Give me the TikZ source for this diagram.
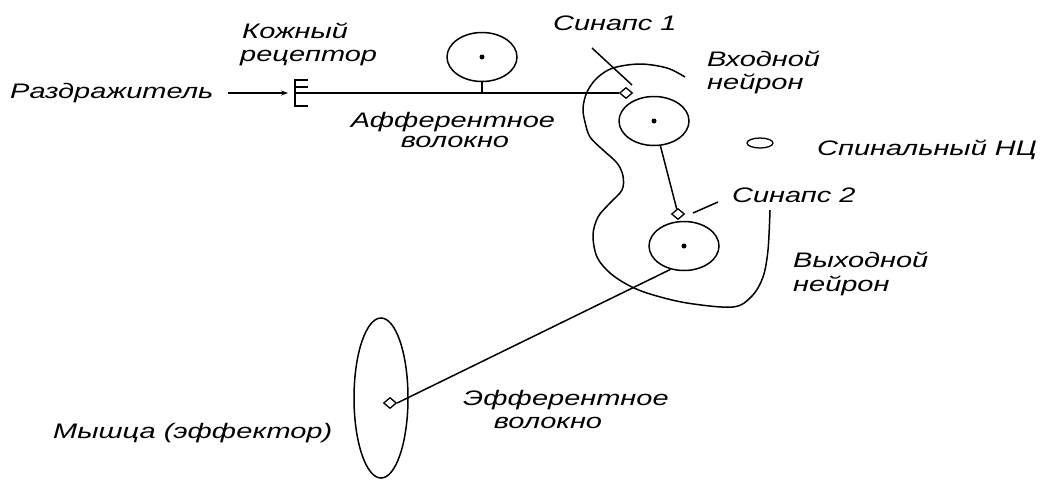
\documentclass[tikz,border=0pt]{standalone}
\usepackage{fontspec}
\newfontfamily\lblfont{Liberation Sans}[FakeStretch=1.38]
\usetikzlibrary{shapes.geometric,arrows.meta}
\begin{document}
\begin{tikzpicture}[x=1pt,y=-1pt,
  ln/.style={line width=1.5pt,black},
  lbl/.style={font=\lblfont\itshape\fontsize{21}{24}\selectfont,inner sep=0pt},
  soma/.style={ellipse,draw,line width=1.5pt,minimum width=70pt,minimum height=49pt,inner sep=0pt},
  syn/.style={diamond,draw,line width=1.3pt,minimum width=13pt,minimum height=11pt,inner sep=0pt},
  dot/.style={circle,fill=black,inner sep=0pt,minimum size=5pt}]
\useasboundingbox (0,0) rectangle (1040,479);
\fill[white] (0,0) rectangle (1040,479);
% cell bodies
\node[soma] (sens) at (482,57) {};
\node[soma] (inN) at (654,121) {};
\node[soma] (outN) at (684,246) {};
\node[dot] (sensd) at (sens.center) {};
\node[dot] (inNd) at (inN.center) {};
\node[dot] (outNd) at (outN.center) {};
\node[ellipse,draw,line width=1.5pt,minimum width=54pt,minimum height=160pt,inner sep=0pt] (muscle) at (381,398) {};
\node[ellipse,draw,line width=1.3pt,minimum width=26pt,minimum height=10pt,inner sep=0pt] (nc) at (760,143) {};
% synapses
\node[syn] (syn1) at (626,93) {};
\node[syn] (syn2) at (678,214) {};
\node[syn] (mend) at (390,403) {};
% receptor
\coordinate (rec) at (295,93);
\draw[ln] (295,79) -- (295,107);
\foreach \yy in {80,87,106} \draw[ln] (295,\yy) -- (308,\yy);
% spinal outline
\draw[ln] plot[smooth,tension=0.55] coordinates {(685,77) (667,68) (640,64) (613,68) (597,78) (587,92) (583,108) (585,122) (590,137) (603,150) (617,163) (623,176) (622,190) (610,203) (598,217) (593,235) (597,257) (610,273) (628,285) (650,294) (687,303) (733,307) (752,296) (763,277) (768,250) (770,210)};
% connectors
\coordinate (stimtail) at (228,93);
\coordinate (stimhead) at (288,93);
\draw[ln,-{Stealth[length=7pt,width=5pt]}] (stimtail) -- (stimhead);
\draw[ln] (rec) -- (syn1.west);
\draw[ln] (sens.south) -- (sens.south |- rec);
\draw[ln] (inN) -- (syn2);
\draw[ln] (outN.240) -- (mend.east);
\coordinate (p1a) at (592,48);
\coordinate (p1b) at (632,85);
\draw[ln] (p1a) -- (p1b);
\coordinate (p2a) at (693,213);
\coordinate (p2b) at (718,202);
\draw[ln] (p2a) -- (p2b);
% labels
\node[lbl,anchor=base west] (stim) at (10,98) {Раздражитель};
\node[lbl,anchor=base west] (skin1) at (242,38) {Кожный};
\node[lbl,anchor=base west] (skin2) at (240,61) {рецептор};
\node[lbl,anchor=base west] (s1l) at (553,30) {Синапс 1};
\node[lbl,anchor=base west] (in1) at (707,66) {Входной};
\node[lbl,anchor=base west] (in2) at (707,89) {нейрон};
\node[lbl,anchor=base] (aff1) at (453,127) {Афферентное};
\node[lbl,anchor=base] (aff2) at (455,147) {волокно};
\node[lbl,anchor=base west] (ncl) at (817,155) {Спинальный НЦ};
\node[lbl,anchor=base west] (s2l) at (732,202) {Синапс 2};
\node[lbl,anchor=base west] (out1) at (793,267) {Выходной};
\node[lbl,anchor=base west] (out2) at (793,291) {нейрон};
\node[lbl,anchor=base west] (eff1) at (463,405) {Эфферентное};
\node[lbl,anchor=base] (eff2) at (548,428) {волокно};
\node[lbl,anchor=base west] (musl) at (53,438) {Мышца (эффектор)};
\end{tikzpicture}
\end{document}
